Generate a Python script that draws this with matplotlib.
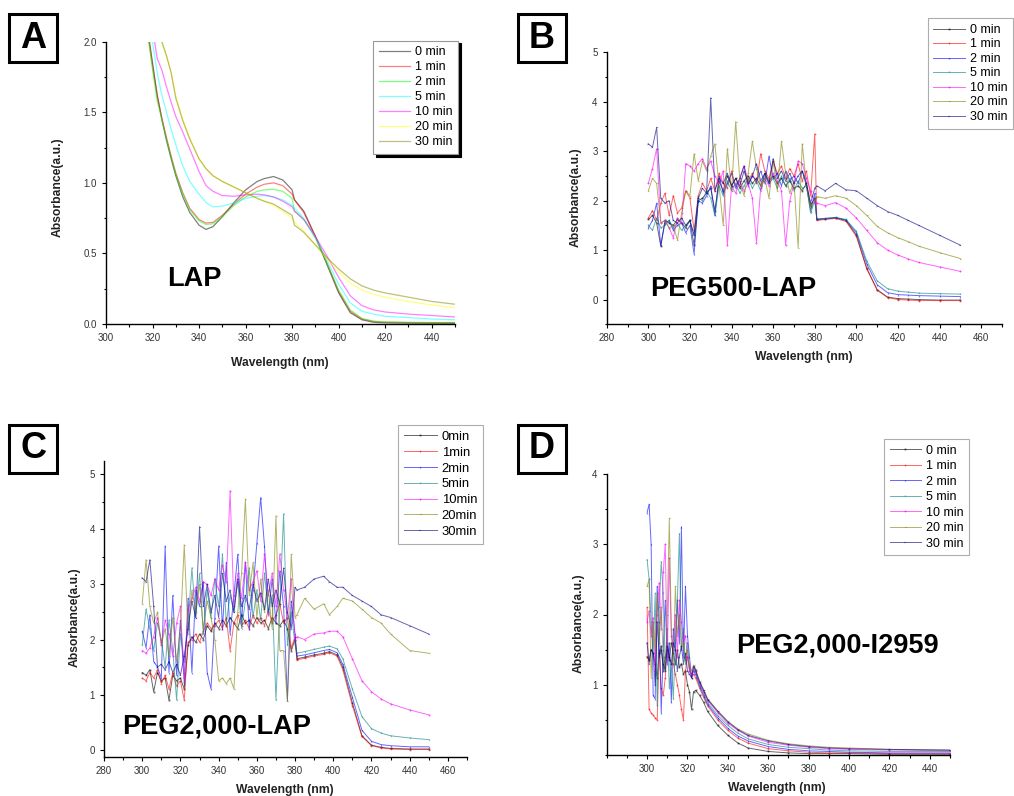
import numpy as np
import matplotlib
matplotlib.use("Agg")
import matplotlib.pyplot as plt
from matplotlib.patches import Rectangle
from matplotlib.ticker import MultipleLocator

plt.rcParams['font.family'] = ['Liberation Sans', 'DejaVu Sans']

W, H = 1014, 796

times_sp = ["0 min", "1 min", "2 min", "5 min", "10 min", "20 min", "30 min"]
times_c = ["0min", "1min", "2min", "5min", "10min", "20min", "30min"]

# ---------------- panel A: LAP (smooth spectra) ----------------
xA = [316, 318, 320, 322, 324, 326, 328, 330, 333, 336, 340, 343, 346, 350, 355, 360, 365,
      368, 372, 376, 380, 381, 385, 390, 395, 400, 405, 410, 415, 420, 430, 440, 450]
A_0 = [2.40, 2.08, 1.85, 1.62, 1.45, 1.30, 1.17, 1.05, 0.90, 0.79, 0.70, 0.67, 0.69, 0.76, 0.86, 0.95, 1.01,
       1.03, 1.045, 1.02, 0.95, 0.88, 0.80, 0.62, 0.42, 0.22, 0.08, 0.03, 0.012, 0.008, 0.006, 0.005, 0.005]
A_1 = [2.40, 2.05, 1.83, 1.62, 1.46, 1.32, 1.19, 1.07, 0.93, 0.82, 0.74, 0.715, 0.72, 0.77, 0.85, 0.92, 0.97,
       0.99, 1.00, 0.98, 0.92, 0.88, 0.79, 0.62, 0.43, 0.23, 0.09, 0.035, 0.018, 0.012, 0.01, 0.01, 0.01]
A_2 = [2.40, 2.05, 1.80, 1.58, 1.45, 1.31, 1.18, 1.06, 0.92, 0.81, 0.73, 0.705, 0.71, 0.76, 0.84, 0.90, 0.94,
       0.95, 0.955, 0.94, 0.89, 0.80, 0.74, 0.61, 0.43, 0.24, 0.10, 0.04, 0.02, 0.015, 0.012, 0.01, 0.01]
A_5 = [2.60, 2.25, 2.00, 1.78, 1.62, 1.50, 1.38, 1.27, 1.12, 1.01, 0.92, 0.86, 0.83, 0.835, 0.86, 0.89, 0.905,
       0.91, 0.90, 0.88, 0.84, 0.82, 0.75, 0.61, 0.45, 0.28, 0.15, 0.09, 0.07, 0.055, 0.045, 0.035, 0.03]
A_10 = [2.70, 2.40, 2.10, 1.88, 1.80, 1.68, 1.57, 1.47, 1.36, 1.24, 1.08, 0.98, 0.94, 0.91, 0.905, 0.915, 0.92,
        0.915, 0.90, 0.87, 0.83, 0.80, 0.74, 0.62, 0.48, 0.33, 0.20, 0.13, 0.10, 0.085, 0.07, 0.06, 0.05]
A_20 = [2.60, 2.45, 2.30, 2.15, 2.00, 1.90, 1.78, 1.62, 1.45, 1.32, 1.17, 1.10, 1.05, 1.01, 0.97, 0.93, 0.89,
        0.87, 0.84, 0.80, 0.75, 0.72, 0.66, 0.56, 0.46, 0.37, 0.29, 0.24, 0.21, 0.19, 0.16, 0.135, 0.115]
A_30 = [2.60, 2.45, 2.30, 2.15, 2.00, 1.90, 1.78, 1.60, 1.44, 1.31, 1.17, 1.10, 1.05, 1.01, 0.97, 0.93, 0.89,
        0.87, 0.85, 0.81, 0.77, 0.70, 0.65, 0.56, 0.47, 0.39, 0.32, 0.27, 0.24, 0.22, 0.19, 0.16, 0.14]

# ---------------- panel B: PEG500-LAP ----------------
xB = np.r_[np.arange(300, 381, 2), [381, 385, 390, 395, 400, 405, 410, 415, 420, 425, 430, 440, 450]]
B_0 = [1.62, 1.70, 1.55, 1.08, 1.60, 1.55, 1.50, 1.62, 1.55, 1.45, 1.60, 1.10, 2.00, 2.05, 2.15, 2.25, 1.80,
       2.40, 2.20, 2.50, 2.30, 2.45, 2.25, 2.40, 2.50, 2.35, 2.45, 2.30, 2.55, 2.40, 2.50, 2.35, 2.45, 2.30,
       2.40, 2.25, 2.30, 2.20, 2.35, 1.90, 2.05,
       1.62, 1.63, 1.65, 1.60, 1.30, 0.63, 0.20, 0.05, 0.02, 0.01, 0.0, -0.01, -0.01]
B_1 = [1.65, 1.80, 1.60, 1.95, 2.15, 1.70, 2.10, 1.75, 1.85, 2.20, 2.05, 1.40, 2.10, 2.35, 2.20, 2.45, 2.20,
       2.55, 2.35, 2.25, 2.60, 2.30, 2.45, 2.70, 2.40, 2.55, 2.35, 2.95, 2.60, 2.45, 2.80, 2.55, 2.70, 2.45,
       2.65, 2.50, 2.75, 2.40, 2.60, 2.10, 3.35,
       1.60, 1.62, 1.64, 1.58, 1.28, 0.62, 0.19, 0.04, 0.0, -0.01, -0.02, -0.02, -0.02]
B_2 = [1.45, 1.60, 1.95, 1.10, 1.55, 1.60, 1.40, 1.50, 1.55, 1.35, 1.50, 0.92, 2.00, 1.95, 2.10, 2.30, 1.70,
       2.50, 2.15, 2.35, 2.55, 2.25, 2.45, 2.70, 2.30, 2.50, 2.40, 2.60, 2.35, 2.90, 2.45, 2.55, 2.30, 2.60,
       2.40, 2.50, 2.35, 2.60, 2.30, 1.80, 2.15,
       1.62, 1.64, 1.66, 1.61, 1.35, 0.72, 0.30, 0.14, 0.10, 0.09, 0.08, 0.07, 0.06]
B_5 = [1.50, 1.40, 1.65, 1.45, 1.50, 1.60, 1.45, 1.55, 1.40, 1.50, 1.60, 1.30, 2.05, 2.00, 2.20, 2.05, 1.70,
       2.30, 2.10, 2.40, 2.20, 2.35, 2.15, 2.30, 2.45, 2.25, 2.40, 2.20, 2.50, 2.35, 2.45, 2.25, 2.50, 2.30,
       2.45, 2.20, 2.40, 2.25, 2.30, 1.75, 2.00,
       1.63, 1.64, 1.66, 1.62, 1.38, 0.78, 0.38, 0.22, 0.17, 0.15, 0.13, 0.12, 0.11]
B_10 = [2.35, 2.65, 3.05, 1.55, 1.60, 1.45, 1.25, 1.65, 1.55, 2.75, 2.70, 2.60, 2.75, 2.85, 2.65, 2.80, 2.50,
        2.35, 2.60, 1.10, 2.30, 2.15, 2.40, 2.20, 2.35, 2.05, 1.15, 2.25, 2.45, 2.30, 2.55, 2.40, 2.20, 1.10,
        2.00, 2.35, 2.80, 2.75, 2.45, 2.20, 1.95,
        1.95, 1.90, 1.96, 1.85, 1.65, 1.40, 1.15, 1.00, 0.90, 0.82, 0.75, 0.66, 0.57]
B_20 = [2.20, 2.45, 2.35, 1.55, 1.60, 1.45, 1.50, 1.20, 1.75, 2.20, 2.10, 2.95, 2.40, 2.80, 2.60, 2.90, 3.15,
        2.30, 1.50, 3.05, 2.20, 3.60, 2.40, 2.10, 2.55, 3.20, 2.65, 2.30, 2.45, 2.05, 2.80, 2.20, 3.20, 2.55,
        2.15, 2.40, 1.05, 3.15, 2.30, 1.85, 2.00,
        2.08, 2.05, 2.10, 2.05, 1.90, 1.70, 1.48, 1.35, 1.25, 1.17, 1.08, 0.95, 0.83]
B_30 = [3.15, 3.08, 3.48, 2.05, 1.95, 2.00, 1.60, 1.55, 1.65, 1.50, 1.60, 1.30, 2.05, 2.25, 2.15, 4.08, 2.20,
        2.45, 2.35, 2.55, 2.30, 2.45, 2.30, 2.60, 2.35, 2.50, 2.75, 2.40, 2.55, 2.35, 2.85, 2.45, 2.60, 2.40,
        2.55, 2.35, 2.50, 2.60, 2.35, 1.95, 2.25,
        2.30, 2.20, 2.35, 2.22, 2.20, 2.05, 1.90, 1.78, 1.70, 1.60, 1.50, 1.30, 1.10]

# ---------------- panel C: PEG2,000-LAP ----------------
xC = np.r_[np.arange(300, 381, 2), [381, 385, 390, 395, 398, 402, 405, 410, 415, 420, 425, 430, 440, 450]]
C_0 = [1.40, 1.35, 1.45, 1.05, 1.40, 1.25, 1.30, 0.90, 1.35, 1.25, 1.30, 1.10, 1.90, 2.05, 1.95, 2.10, 2.00,
       2.25, 2.15, 2.30, 2.20, 2.35, 2.25, 2.40, 2.30, 2.20, 2.45, 2.30, 2.35, 2.25, 2.40, 2.30, 2.35, 2.20,
       2.40, 2.30, 2.25, 2.35, 2.20, 1.80, 2.00,
       1.65, 1.68, 1.72, 1.75, 1.78, 1.72, 1.50, 0.85, 0.25, 0.08, 0.04, 0.02, 0.01, 0.01]
C_1 = [1.30, 1.25, 1.40, 1.30, 1.45, 1.20, 1.35, 1.10, 1.40, 1.15, 1.25, 0.90, 1.95, 2.00, 2.10, 1.95, 2.15,
       2.30, 2.20, 2.25, 2.35, 2.20, 2.40, 1.80, 2.30, 2.45, 2.25, 2.35, 2.20, 2.45, 2.30, 2.40, 2.25, 2.55,
       2.30, 2.45, 2.65, 2.30, 2.40, 1.85, 2.05,
       1.63, 1.66, 1.70, 1.73, 1.76, 1.70, 1.45, 0.80, 0.24, 0.07, 0.03, 0.01, 0.0, 0.0]
C_2 = [2.15, 1.85, 2.45, 1.60, 1.50, 1.30, 3.70, 1.40, 2.80, 1.35, 2.35, 1.20, 2.75, 1.40, 2.90, 2.60, 3.05,
       1.40, 1.10, 2.40, 3.70, 2.20, 3.40, 2.10, 2.80, 3.55, 2.30, 3.40, 2.20, 2.90, 3.75, 4.58, 3.70, 2.45,
       3.10, 2.30, 3.25, 2.60, 0.90, 2.70, 2.10,
       1.70, 1.72, 1.76, 1.80, 1.82, 1.76, 1.55, 0.95, 0.35, 0.15, 0.09, 0.07, 0.05, 0.05]
C_5 = [1.90, 2.55, 2.20, 1.80, 2.30, 2.00, 1.50, 2.35, 1.80, 0.90, 2.10, 1.60, 2.30, 3.30, 2.40, 3.20, 2.10,
       2.90, 2.40, 3.10, 2.60, 3.55, 2.30, 2.80, 2.50, 3.05, 2.20, 2.70, 3.30, 2.40, 2.90, 2.35, 3.20, 2.50,
       2.80, 0.90, 2.60, 4.28, 1.90, 2.50, 1.90,
       1.75, 1.78, 1.82, 1.86, 1.88, 1.83, 1.65, 1.10, 0.60, 0.38, 0.30, 0.25, 0.21, 0.18]
C_10 = [1.80, 1.75, 1.85, 2.05, 2.40, 1.90, 2.35, 2.10, 1.70, 2.30, 2.60, 1.30, 2.55, 2.75, 2.95, 2.70, 3.05,
        3.00, 2.80, 3.10, 2.90, 3.35, 3.05, 4.70, 2.60, 3.20, 2.75, 3.40, 2.90, 3.05, 3.25, 2.70, 3.55, 2.80,
        3.20, 2.60, 3.55, 2.90, 2.40, 3.10, 2.00,
        2.05, 2.00, 2.10, 2.12, 2.15, 2.15, 2.05, 1.65, 1.25, 1.05, 0.92, 0.83, 0.72, 0.63]
C_20 = [2.65, 3.45, 2.60, 2.30, 2.50, 1.90, 2.20, 1.70, 2.40, 1.60, 2.20, 3.72, 2.10, 2.90, 2.50, 3.00, 2.20,
        2.70, 2.40, 2.00, 1.25, 1.30, 1.20, 1.30, 1.10, 2.50, 3.20, 4.55, 2.80, 3.40, 2.40, 3.10, 2.50, 2.90,
        2.20, 4.25, 1.80, 1.80, 0.88, 3.55, 2.40,
        2.45, 2.75, 2.55, 2.65, 2.45, 2.60, 2.75, 2.70, 2.55, 2.40, 2.30, 2.10, 1.80, 1.75]
C_30 = [3.12, 3.05, 3.45, 2.60, 1.50, 1.55, 1.45, 1.60, 1.40, 1.55, 1.35, 1.70, 2.20, 2.70, 2.40, 4.05, 2.60,
        3.00, 2.50, 2.80, 2.40, 3.20, 2.70, 2.90, 2.50, 3.10, 2.60, 2.80, 2.55, 3.00, 2.70, 2.85, 2.55, 3.10,
        2.60, 2.90, 2.65, 3.30, 2.50, 2.20, 2.95,
        2.90, 2.95, 3.10, 3.15, 3.05, 2.95, 2.95, 2.80, 2.70, 2.60, 2.45, 2.40, 2.25, 2.10]

# ---------------- panel D: PEG2,000-I2959 ----------------
xD = np.r_[np.arange(300, 323, 1), [323, 324, 326, 328, 330, 335, 340, 345, 350, 360, 370, 380, 390, 400, 420, 450]]
D_0 = [1.40, 1.35, 1.50, 1.45, 1.30, 1.10, 1.45, 1.55, 1.20, 1.40, 1.50, 1.35, 1.60, 1.45, 1.30, 1.50, 1.25,
       1.30, 1.15, 1.20, 1.00, 0.90, 0.65,
       0.90, 0.92, 0.85, 0.75, 0.62, 0.42, 0.28, 0.17, 0.10, 0.05, 0.03, 0.02, 0.02, 0.02, 0.01, 0.01]
D_1 = [2.10, 0.65, 0.60, 0.57, 0.53, 0.50, 1.50, 0.95, 0.85, 1.10, 1.60, 1.40, 1.30, 1.30, 1.15, 1.00, 0.85,
       0.65, 0.50, 1.20, 1.40, 1.25, 1.10,
       1.15, 1.10, 0.95, 0.82, 0.70, 0.50, 0.35, 0.24, 0.17, 0.09, 0.06, 0.04, 0.03, 0.03, 0.02, 0.02]
D_2 = [3.45, 3.57, 3.00, 0.85, 0.80, 2.40, 1.90, 0.60, 1.50, 2.20, 1.30, 1.60, 0.75, 1.80, 1.50, 2.20, 1.60,
       3.25, 1.40, 2.40, 1.70, 1.40, 1.10,
       1.20, 1.15, 0.98, 0.85, 0.72, 0.53, 0.38, 0.27, 0.20, 0.12, 0.08, 0.06, 0.05, 0.04, 0.03, 0.03]
D_5 = [2.78, 2.50, 1.90, 1.40, 2.30, 0.70, 2.10, 2.75, 2.30, 1.20, 1.80, 0.95, 1.30, 0.80, 1.60, 2.20, 3.15,
       1.50, 1.80, 1.30, 1.60, 1.20, 1.15,
       1.22, 1.18, 1.00, 0.88, 0.75, 0.56, 0.42, 0.31, 0.23, 0.15, 0.11, 0.09, 0.07, 0.06, 0.05, 0.05]
D_10 = [1.90, 2.05, 1.70, 1.95, 1.20, 2.00, 2.45, 1.80, 2.60, 3.00, 1.40, 2.80, 1.70, 1.50, 2.00, 1.40, 2.20,
        1.90, 1.60, 1.70, 1.40, 1.20, 1.15,
        1.25, 1.20, 1.03, 0.90, 0.78, 0.60, 0.45, 0.35, 0.27, 0.18, 0.14, 0.11, 0.09, 0.08, 0.07, 0.06]
D_20 = [2.40, 2.50, 1.10, 1.90, 1.50, 2.30, 1.60, 2.10, 1.40, 1.20, 2.00, 3.37, 1.80, 1.30, 2.40, 1.70, 2.00,
        1.50, 1.60, 1.35, 1.50, 1.25, 1.20,
        1.28, 1.22, 1.05, 0.93, 0.80, 0.63, 0.48, 0.37, 0.30, 0.21, 0.16, 0.13, 0.11, 0.10, 0.08, 0.07]
D_30 = [1.60, 1.30, 1.50, 1.45, 1.00, 1.90, 1.40, 1.50, 1.30, 1.20, 1.55, 1.40, 1.30, 1.60, 1.50, 1.20, 1.40,
        1.55, 1.30, 1.45, 1.20, 1.15, 1.10,
        1.26, 1.21, 1.04, 0.92, 0.79, 0.62, 0.47, 0.36, 0.28, 0.20, 0.15, 0.12, 0.10, 0.09, 0.08, 0.07]

colors_a = ["#000000", "#ff0000", "#00ff00", "#00ffff", "#ff00ff", "#ffff00", "#808000"]
colors_o = ["#000000", "#ff0000", "#0000ff", "#008080", "#ff00ff", "#808000", "#000080"]
markers = ["s", "o", "^", "v", "D", "<", ">"]


def px_rect(x0, y0, x1, y1):
    return [x0 / W, 1 - y1 / H, (x1 - x0) / W, (y1 - y0) / H]


fig = plt.figure(figsize=(W / 100, H / 100), dpi=100)


def style(ax):
    for s in ("top", "right"):
        ax.spines[s].set_visible(False)
    for s in ("left", "bottom"):
        ax.spines[s].set_linewidth(1.0)
    ax.tick_params(which="both", direction="out", labelsize=7, labelcolor="#333333", width=0.8)
    ax.tick_params(which="major", length=3)
    ax.tick_params(which="minor", length=1.8)
    ax.patch.set_alpha(0)


def labels(ax, xl, yl):
    ax.text(xl[0], xl[1], "Wavelength (nm)", transform=ax.transAxes, ha="center", va="center",
            fontsize=8.7, weight="bold", color="#222222")
    ax.text(yl[0], yl[1], "Absorbance(a.u.)", transform=ax.transAxes, ha="center", va="center",
            rotation=90, fontsize=8.7, weight="bold", color="#222222")


def legend(ax, anchor, names, fs=9.0, ls=0.15, shadow=False):
    leg = ax.legend(names, loc="upper left", bbox_to_anchor=(anchor[0] / W, 1 - anchor[1] / H),
                    bbox_transform=fig.transFigure, fontsize=fs, frameon=True, fancybox=False,
                    handlelength=2.5, handletextpad=0.4, labelspacing=ls, borderpad=0.45,
                    borderaxespad=0, shadow=shadow and {"color": "black", "alpha": 1})
    leg.get_frame().set_edgecolor("#999999")
    leg.get_frame().set_linewidth(0.8)
    return leg


# Panel A
axA = fig.add_axes(px_rect(106, 41.7, 455, 324))
for ys, c, n in zip([A_0, A_1, A_2, A_5, A_10, A_20, A_30], colors_a, times_sp):
    axA.plot(xA, ys, color=c, lw=0.9, alpha=0.5, label=n)
axA.set_xlim(300, 450)
axA.set_ylim(0, 2.0)
axA.set_xticks(np.arange(300, 441, 20))
axA.xaxis.set_minor_locator(MultipleLocator(10))
axA.yaxis.set_major_locator(MultipleLocator(0.5))
axA.yaxis.set_minor_locator(MultipleLocator(0.25))
style(axA)
labels(axA, (0.4986, -0.138), (-0.1375, 0.486))
axA.text(0.175, 0.16, "LAP", transform=axA.transAxes, ha="left", va="center", fontsize=19.5, weight="bold")
legend(axA, (373, 40.7), times_sp, fs=9.0, ls=0.24, shadow=True)


def noisy_panel(rect, x, series, names, xlim, ylim, yticks, title, title_pos, xl, yl, leg_anchor,
                xticks, leg_fs, leg_ls):
    ax = fig.add_axes(px_rect(*rect))
    for ys, c, m, n in zip(series, colors_o, markers, names):
        ax.plot(x, ys, color=c, lw=0.7, alpha=0.6, marker=m, ms=1.3, mew=0, label=n)
    ax.set_xlim(*xlim)
    ax.set_ylim(*ylim)
    ax.set_xticks(xticks)
    ax.xaxis.set_minor_locator(MultipleLocator(10))
    ax.set_yticks(yticks)
    ax.yaxis.set_minor_locator(MultipleLocator(0.5))
    style(ax)
    labels(ax, xl, yl)
    ax.text(title_pos[0], title_pos[1], title, transform=ax.transAxes, ha="left", va="center",
            fontsize=19.5, weight="bold")
    legend(ax, leg_anchor, names, fs=leg_fs, ls=leg_ls)
    return ax


noisy_panel((606.7, 52.3, 1002, 324.3), xB, [B_0, B_1, B_2, B_5, B_10, B_20, B_30], times_sp,
            (280, 470), (-0.5, 5), [0, 1, 2, 3, 4, 5], "PEG500-LAP", (0.11, 0.13),
            (0.499, -0.12), (-0.078, 0.468), (927.7, 18.3), np.arange(280, 461, 20), 9.0, 0.2)

noisy_panel((104, 460.7, 467, 756.7), xC, [C_0, C_1, C_2, C_5, C_10, C_20, C_30], times_c,
            (280, 470), (-0.13, 5.25), [0, 1, 2, 3, 4, 5], "PEG2,000-LAP", (0.049, 0.101),
            (0.4986, -0.1125), (-0.08, 0.473), (398, 425), np.arange(280, 461, 20), 9.4, 0.28)

noisy_panel((606.7, 474, 950, 755), xD, [D_0, D_1, D_2, D_5, D_10, D_20, D_30], times_sp,
            (280, 450), (0, 4), [1, 2, 3, 4], "PEG2,000-I2959", (0.377, 0.391),
            (0.496, -0.117), (-0.081, 0.47), (884, 439), np.arange(300, 441, 20), 9.0, 0.28)

# panel letters in boxes
for letter, cx, cy in [("A", 33, 38), ("B", 542, 38), ("C", 33, 449), ("D", 542, 449)]:
    fig.patches.append(Rectangle(((cx - 24) / W, 1 - (cy + 24) / H), 48 / W, 48 / H,
                                 transform=fig.transFigure, fill=False, lw=2.2, edgecolor="black"))
    fig.text(cx / W, 1 - cy / H, letter, ha="center", va="center", fontsize=26, weight="bold")

fig.savefig("out.png", dpi=100)
